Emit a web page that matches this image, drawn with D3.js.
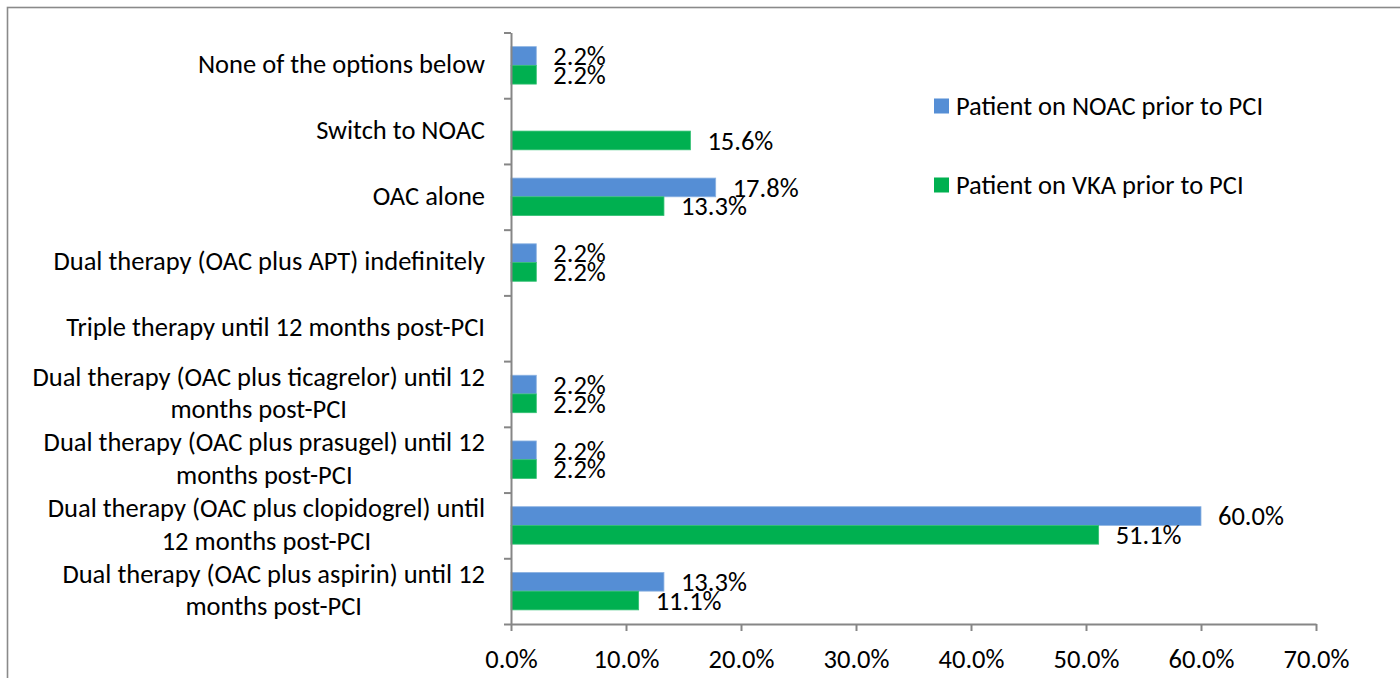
<!DOCTYPE html>
<html>
<head>
<meta charset="utf-8">
<script src="https://cdn.jsdelivr.net/npm/d3@7"></script>
<style>
  html, body { margin: 0; padding: 0; background: #fff; }
  svg { display: block; }
  text { font-family: Carlito, Lato, "Open Sans", sans-serif; fill: #000; }
</style>
</head>
<body>
<svg id="chart" width="1400" height="678"></svg>
<script>
// ---- data ----
const categoryLines = [
  ["None of the options below"],
  ["Switch to NOAC"],
  ["OAC alone"],
  ["Dual therapy (OAC plus APT) indefinitely"],
  ["Triple therapy until 12 months post-PCI"],
  ["Dual therapy (OAC plus ticagrelor) until 12", "months post-PCI"],
  ["Dual therapy (OAC plus prasugel) until 12", "months post-PCI"],
  ["Dual therapy (OAC plus clopidogrel) until", "12 months post-PCI"],
  ["Dual therapy (OAC plus aspirin) until 12", "months post-PCI"]
];
const noacValues = [2.2, null, 17.8, 2.2, null, 2.2, 2.2, 60.0, 13.3];
const vkaValues  = [2.2, 15.6, 13.3, 2.2, null, 2.2, 2.2, 51.1, 11.1];
const seriesNames = ["Patient on NOAC prior to PCI", "Patient on VKA prior to PCI"];
const seriesColors = ["#558ED5", "#00B050"];
const xTickValues = [0, 10, 20, 30, 40, 50, 60, 70];

// ---- layout ----
const FS = 26.5;
const plotLeft = 511, plotRight = 1316, plotTop = 32.5, plotBottom = 624;
const svg = d3.select("#chart");

// frame
svg.append("rect").attr("x", 7.5).attr("y", 7.5).attr("width", 1500).attr("height", 800)
  .attr("fill", "none").attr("stroke", "#8a8a8a").attr("stroke-width", 1.6);

const idx = d3.range(categoryLines.length);
const x = d3.scaleLinear().domain([0, 70]).range([plotLeft, plotRight]);
const y = d3.scaleBand().domain(idx).range([plotTop, plotBottom]).paddingInner(0.43).paddingOuter(0.215);
const ySub = d3.scaleBand().domain([0, 1]).range([0, y.bandwidth()]);
const yEdges = d3.scaleLinear().domain([0, categoryLines.length]).range([plotTop, plotBottom]);

// bars
const series = [noacValues, vkaValues];
series.forEach((vals, s) => {
  const data = idx.map(i => ({ i, v: vals[i] })).filter(d => d.v != null);
  svg.append("g").selectAll("rect").data(data).join("rect")
    .attr("x", x(0))
    .attr("y", d => y(d.i) + ySub(s))
    .attr("width", d => x(d.v) - x(0))
    .attr("height", ySub.bandwidth())
    .attr("fill", seriesColors[s])
    .attr("stroke", s === 0 ? "#8db3e2" : "#33c073")
    .attr("stroke-width", 0.8);
  svg.append("g").selectAll("text").data(data).join("text")
    .attr("x", d => x(d.v) + 17)
    .attr("y", d => y(d.i) + ySub(s) + ySub.bandwidth() / 2 + 0.35 * FS)
    .attr("font-size", FS)
    .text(d => d.v.toFixed(1) + "%");
});

// y axis (ticks between categories)
const yAxisG = svg.append("g").attr("transform", `translate(${plotLeft},0)`)
  .call(d3.axisLeft(yEdges).tickValues(d3.range(categoryLines.length + 1)).tickFormat("").tickSize(7).tickSizeOuter(0));
yAxisG.selectAll("path, line").attr("stroke", "#868686").attr("stroke-width", 2);

// x axis
const xAxisG = svg.append("g").attr("transform", `translate(0,${plotBottom})`)
  .call(d3.axisBottom(x).tickValues(xTickValues).tickFormat(d => d.toFixed(1) + "%").tickSize(7).tickSizeOuter(0).tickPadding(18));
xAxisG.selectAll("path, line").attr("stroke", "#868686").attr("stroke-width", 2);
xAxisG.selectAll("text").attr("font-size", FS).attr("font-family", "Carlito, Lato, sans-serif").attr("fill", "#000");

// category labels
const labelRight = 485, lineGap = 32.7;
idx.forEach(i => {
  const lines = categoryLines[i];
  const g = svg.append("g");
  const cy = y(i) + y.bandwidth() / 2;
  const texts = lines.map((ln, k) => g.append("text")
    .attr("font-size", FS)
    .attr("y", cy + (k - (lines.length - 1) / 2) * lineGap + 0.3 * FS)
    .text(ln));
  const maxW = d3.max(texts, t => t.node().getComputedTextLength());
  const center = labelRight - maxW / 2;
  texts.forEach(t => t.attr("x", center).attr("text-anchor", "middle"));
});

// legend
const legendY = [106, 185];
seriesNames.forEach((name, s) => {
  svg.append("rect").attr("x", 934).attr("y", legendY[s] - 7.5).attr("width", 15).attr("height", 15)
    .attr("fill", seriesColors[s]);
  svg.append("text").attr("x", 956).attr("y", legendY[s] + 0.33 * FS).attr("font-size", FS).text(name);
});
</script>
</body>
</html>
